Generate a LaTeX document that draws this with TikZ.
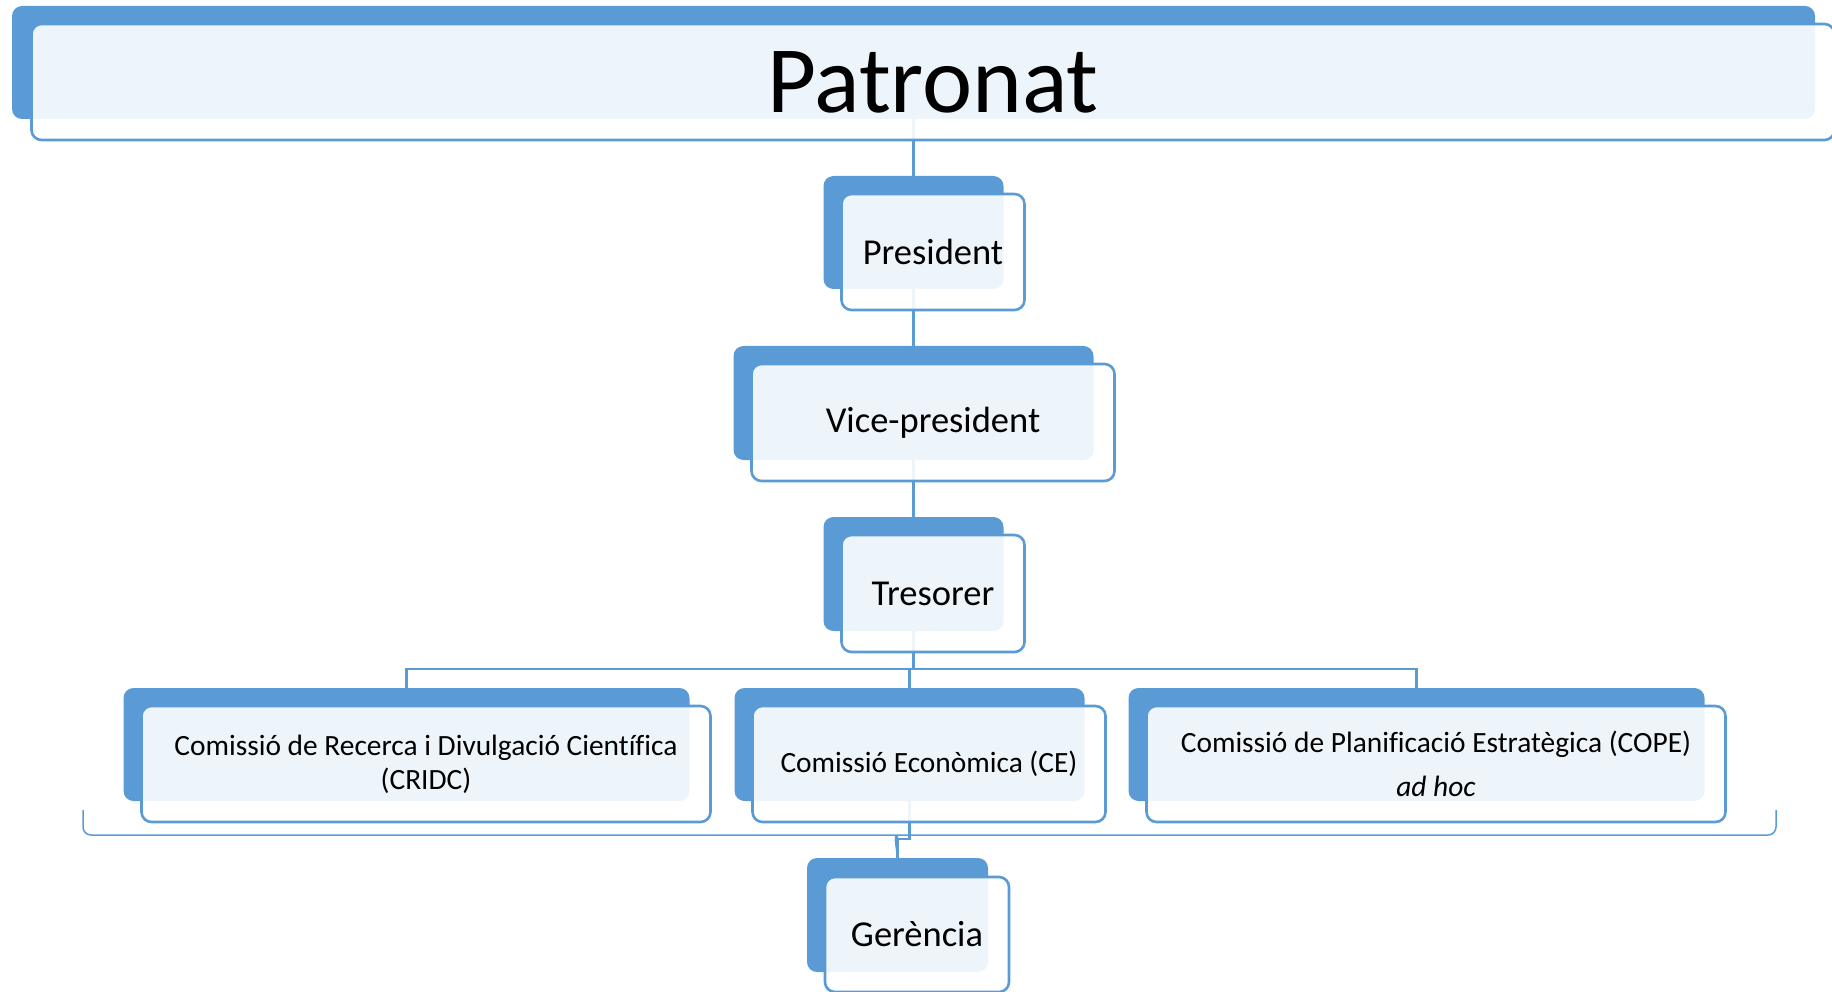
\documentclass[tikz,border=0pt]{standalone}
\usepackage{fontspec}
\setmainfont[Ligatures=NoCommon]{Carlito}
\usetikzlibrary{positioning,backgrounds}
\definecolor{orgblue}{RGB}{91,155,213}
\tikzset{
    backbox/.style={
           rectangle,
           rounded corners=10pt,
           fill=orgblue,
           inner sep=0pt, outer sep=0pt,
           },
}
\tikzset{
    frontbox/.style={
           rectangle,
           rounded corners=10pt,
           draw=orgblue, line width=2.6pt,
           fill=white, fill opacity=0.9, text opacity=1,
           inner sep=0pt, outer sep=0pt,
           align=center,
           },
}
\tikzset{
    conn/.style={draw=orgblue, line width=2.4pt},
    brace/.style={draw=orgblue, line width=1.5pt},
    headtext/.style={font=\fontsize{95}{100}\selectfont},
    roletext/.style={font=\fontsize{36.5}{40}\selectfont},
    comtext/.style={font=\fontsize{29.4}{34}\selectfont},
}

\begin{document}
\begin{tikzpicture}[x=1pt,y=-1pt]
\useasboundingbox (0,0) rectangle (1832,992);

% back boxes
\node[backbox,minimum width=1803pt,minimum height=113pt](patronat) at (913.5,62.5){};
\node[backbox,minimum width=180pt,minimum height=113pt,below=57pt of patronat](pres){};
\node[backbox,minimum width=360pt,minimum height=114pt,below=57pt of pres](vice){};
\node[backbox,minimum width=180pt,minimum height=114pt,below=57pt of vice](tres){};
\node[backbox,minimum width=350pt,minimum height=113pt,below=57pt of tres,xshift=-4pt](ce){};
\node[backbox,minimum width=566pt,minimum height=113pt,left=45pt of ce](cridc){};
\node[backbox,minimum width=576pt,minimum height=113pt,right=44pt of ce](cope){};
\node[backbox,minimum width=181pt,minimum height=114pt,below=57pt of ce,xshift=-12pt](ger){};

% connectors
\begin{pgfonlayer}{background}
\draw[conn] (patronat.south) -- (pres.north);
\draw[conn] (pres.south) -- (vice.north);
\draw[conn] (vice.south) -- (tres.north);
\draw[conn] (tres.south) -- ++(0,38) -| (cridc.north);
\draw[conn] (tres.south) -- ++(0,38) -| (ce.north);
\draw[conn] (tres.south) -- ++(0,38) -| (cope.north);
\draw[conn] (ce.south) -- ++(0,38) -| (ger.north);
\end{pgfonlayer}

% brace under the commissions
\coordinate (braceL) at (83,810);
\coordinate (braceR) at (1776,810);
\draw[brace,rounded corners=8pt] (braceL) -- (83,835) -- (889,835)
  .. controls (894,835) and (896,845) .. (ger.north)
  .. controls (897,845) and (899,835) .. (904,835) -- (1776,835) -- (braceR);

% front boxes
\node[frontbox,headtext,minimum width=1803pt,minimum height=116pt](patronat-f) at ([shift={(19.5pt,-19.5pt)}]patronat){Patronat};
\node[frontbox,roletext,minimum width=183pt,minimum height=116pt](pres-f) at ([shift={(19.5pt,-19.5pt)}]pres){President};
\node[frontbox,roletext,minimum width=363pt,minimum height=117pt](vice-f) at ([shift={(19.5pt,-19.5pt)}]vice){Vice-president};
\node[frontbox,roletext,minimum width=183pt,minimum height=117pt](tres-f) at ([shift={(19.5pt,-19.5pt)}]tres){Tresorer};
\node[frontbox,comtext,minimum width=569pt,minimum height=116pt](cridc-f) at ([shift={(19.5pt,-19.5pt)}]cridc){Comissió de Recerca i Divulgació Científica\\(CRIDC)};
\node[frontbox,comtext,minimum width=353pt,minimum height=116pt](ce-f) at ([shift={(19.5pt,-19.5pt)}]ce){Comissió Econòmica (CE)};
\node[frontbox,comtext,minimum width=579pt,minimum height=116pt](cope-f) at ([shift={(19.5pt,-19.5pt)}]cope){Comissió de Planificació Estratègica (COPE)\\[10pt]\textit{ad hoc}};
\node[frontbox,roletext,minimum width=184pt,minimum height=115pt](ger-f) at ([shift={(19.5pt,-19.5pt)}]ger){Gerència};
\end{tikzpicture}
\end{document}
